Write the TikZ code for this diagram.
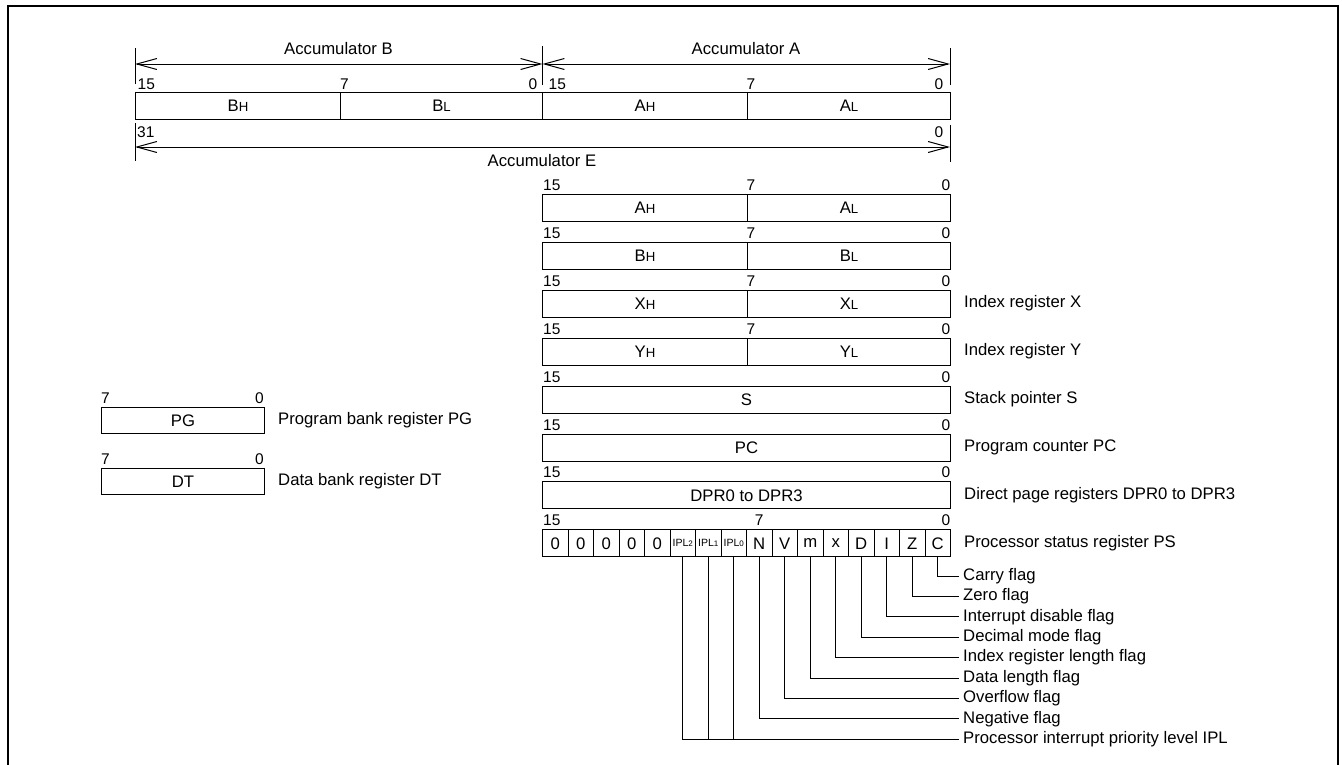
\documentclass[tikz,border=0pt]{standalone}
\usepackage{fontspec}
\setmainfont{Liberation Sans}
\usetikzlibrary{arrows.meta}
\newcommand\rsub[1]{{\fontsize{13.2}{14}\selectfont #1}}
\newcommand\iplt[1]{{\fontsize{10.5}{11}\selectfont IPL{\fontsize{8}{9}\selectfont #1}}}
\begin{document}
\begin{tikzpicture}[x=1pt,y=-1pt,
  every node/.style={font=\fontsize{16.7}{18}\selectfont, inner sep=0pt},
  reg/.style={draw, line width=1pt, minimum height=27pt, anchor=north west},
  bitnum/.style={font=\fontsize{15.5}{16}\selectfont, anchor=base west},
  bitnumr/.style={font=\fontsize{15.5}{16}\selectfont, anchor=base east},
  lab/.style={anchor=west},
  conn/.style={line width=1pt},
  dimline/.style={line width=1pt, {Straight Barb[length=20pt,width=11pt]}-{Straight Barb[length=20pt,width=11pt]}}
]
\useasboundingbox (0,0) rectangle (1342,764);
\draw[line width=2pt] (8.3,780) -- (8.3,6.3) -- (1337.7,6.3) -- (1337.7,780);

% ---- Accumulators B / A ----
\coordinate (tl1) at (135,48);   \coordinate (tl2) at (135,84);
\coordinate (tm1) at (542.5,46); \coordinate (tm2) at (542.5,85);
\coordinate (tr1) at (950,48);   \coordinate (tr2) at (950,85);
\draw[conn] (tl1) -- (tl2);
\draw[conn] (tm1) -- (tm2);
\draw[conn] (tr1) -- (tr2);
\coordinate (dl) at (135,64); \coordinate (dm) at (542.5,64); \coordinate (dr) at (950,64);
\draw[dimline] (dl) -- (dm);
\draw[dimline] (dm) -- (dr);
\node[anchor=base] (accB) at (338.5,54) {Accumulator B};
\node[anchor=base] (accA) at (746,54) {Accumulator A};
\node[bitnum] (n1) at (137.5,89) {15};
\node[bitnum] (n2) at (340,89) {7};
\node[bitnumr] (n3) at (537.5,89) {0};
\node[bitnum] (n4) at (548.5,89) {15};
\node[bitnum] (n5) at (746.5,89) {7};
\node[bitnumr] (n6) at (943.5,89) {0};

\node[reg, minimum width=205pt] (bh) at (135,92) {B\rsub{H}};
\node[reg, minimum width=202pt] (bl) at (340,92) {B\rsub{L}};
\node[reg, minimum width=205pt] (ah) at (542,92) {A\rsub{H}};
\node[reg, minimum width=203pt] (al) at (747,92) {A\rsub{L}};

% ---- Accumulator E ----
\coordinate (el1) at (135,123); \coordinate (el2) at (135,161);
\coordinate (er1) at (950,125); \coordinate (er2) at (950,162);
\draw[conn] (el1) -- (el2);
\draw[conn] (er1) -- (er2);
\coordinate (edl) at (135,147); \coordinate (edr) at (950,147);
\draw[dimline] (edl) -- (edr);
\node[bitnum] (n7) at (137,137) {31};
\node[bitnumr] (n8) at (943.5,137) {0};
\node[anchor=base] (accE) at (542,166.5) {Accumulator E};

% ---- Right register stack ----
% row 0 : A
\node[bitnum] at (543,190.5) {15};
\node[bitnum] at (746.5,190.5) {7};
\node[bitnumr] at (950.5,190.5) {0};
\node[reg, minimum width=205pt] (ah2) at (542,194) {A\rsub{H}};
\node[reg, minimum width=203pt] (al2) at (747,194) {A\rsub{L}};
% row 1 : B
\node[bitnum] at (543,238.4) {15};
\node[bitnum] at (746.5,238.4) {7};
\node[bitnumr] at (950.5,238.4) {0};
\node[reg, minimum width=205pt] (bh2) at (542,241.9) {B\rsub{H}};
\node[reg, minimum width=203pt] (bl2) at (747,241.9) {B\rsub{L}};
% row 2 : X
\node[bitnum] at (543,286.3) {15};
\node[bitnum] at (746.5,286.3) {7};
\node[bitnumr] at (950.5,286.3) {0};
\node[reg, minimum width=205pt] (xh) at (542,289.8) {X\rsub{H}};
\node[reg, minimum width=203pt] (xl) at (747,289.8) {X\rsub{L}};
\node[lab] (lx) at (964,303.3) {Index register X};
% row 3 : Y
\node[bitnum] at (543,334.2) {15};
\node[bitnum] at (746.5,334.2) {7};
\node[bitnumr] at (950.5,334.2) {0};
\node[reg, minimum width=205pt] (yh) at (542,337.7) {Y\rsub{H}};
\node[reg, minimum width=203pt] (yl) at (747,337.7) {Y\rsub{L}};
\node[lab] (ly) at (964,351.2) {Index register Y};
% row 4 : S
\node[bitnum] at (543,382.1) {15};
\node[bitnumr] at (950.5,382.1) {0};
\node[reg, minimum width=408pt] (s) at (542,385.6) {S};
\node[lab] (ls) at (964,399.1) {Stack pointer S};
% row 5 : PC
\node[bitnum] at (543,430) {15};
\node[bitnumr] at (950.5,430) {0};
\node[reg, minimum width=408pt] (pc) at (542,433.5) {PC};
\node[lab] (lpc) at (964,447) {Program counter PC};
% row 6 : DPR
\node[bitnum] at (543,477.9) {15};
\node[bitnumr] at (950.5,477.9) {0};
\node[reg, minimum width=408pt] (dpr) at (542,481.4) {DPR0 to DPR3};
\node[lab] (ldpr) at (964,494.9) {Direct page registers DPR0 to DPR3};
% row 7 : PS
\node[bitnum] at (543,525.8) {15};
\node[bitnumr] at (950.5,525.8) {0};
\foreach \t [count=\i from 0] in {0,0,0,0,0,\iplt{2},\iplt{1},\iplt{0},N,V,m,x,D,I,Z,C}
  \node[reg, minimum width=25.5pt] (c\i) at ({542+25.5*\i},529.3) {\t};
\node[font=\fontsize{15.5}{16}\selectfont, anchor=base] at (c8.north |- 0,525.8) {7};
\node[lab] (lps) at (964,542.8) {Processor status register PS};

% ---- Flags ----
\node[lab] (fC)  at (963,576)   {Carry flag};
\node[lab] (fZ)  at (963,596.4) {Zero flag};
\node[lab] (fI)  at (963,616.8) {Interrupt disable flag};
\node[lab] (fD)  at (963,637.2) {Decimal mode flag};
\node[lab] (fx)  at (963,657.6) {Index register length flag};
\node[lab] (fm)  at (963,678)   {Data length flag};
\node[lab] (fV)  at (963,698.4) {Overflow flag};
\node[lab] (fN)  at (963,718.8) {Negative flag};
\node[lab] (fIPL) at (963,739.2) {Processor interrupt priority level IPL};

\draw[conn] (c15.south) |- ([xshift=-4pt]fC.west);
\draw[conn] (c14.south) |- ([xshift=-4pt]fZ.west);
\draw[conn] (c13.south) |- ([xshift=-4pt]fI.west);
\draw[conn] (c12.south) |- ([xshift=-4pt]fD.west);
\draw[conn] (c11.south) |- ([xshift=-4pt]fx.west);
\draw[conn] (c10.south) |- ([xshift=-4pt]fm.west);
\draw[conn] (c9.south)  |- ([xshift=-4pt]fV.west);
\draw[conn] (c8.south)  |- ([xshift=-4pt]fN.west);
\draw[conn] (c5.south)  |- ([xshift=-4pt]fIPL.west);
\draw[conn] (c6.south)  -- (c6.south |- fIPL.west);
\draw[conn] (c7.south)  -- (c7.south |- fIPL.west);

% ---- Left: PG / DT ----
\node[bitnum] at (101,403) {7};
\node[bitnumr] at (264,403) {0};
\node[reg, minimum width=163pt, minimum height=26pt] (pg) at (101,407) {PG};
\node[lab] (lpg) at (278,420) {Program bank register PG};
\node[bitnum] at (101,464) {7};
\node[bitnumr] at (264,464) {0};
\node[reg, minimum width=163pt, minimum height=26pt] (dt) at (101,468) {DT};
\node[lab] (ldt) at (278,481) {Data bank register DT};
\end{tikzpicture}
\end{document}
